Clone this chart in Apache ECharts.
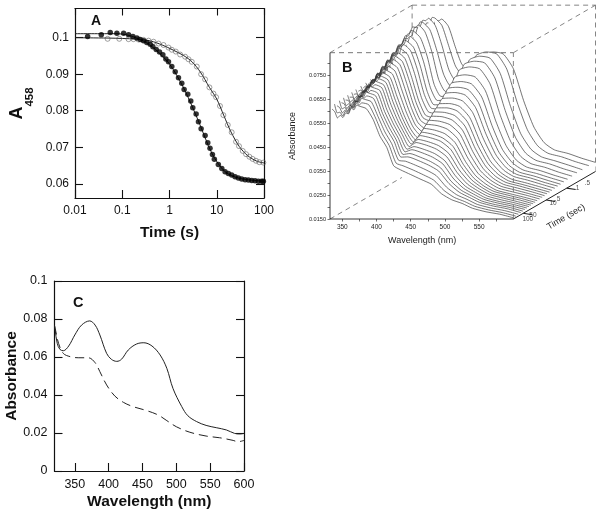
<!DOCTYPE html>
<html><head><meta charset="utf-8">
<style>html,body{margin:0;padding:0;background:#fff}#c{width:600px;height:513px}</style>
<script src="https://cdn.jsdelivr.net/npm/echarts@6/dist/echarts.min.js"></script>
</head><body><div id="c"></div>
<script>
// ---------- Panel A ----------
const filledTime=[0.0185,0.036,0.0557,0.077,0.107,0.136,0.168,0.204,0.24,0.282,0.331,0.39,0.445,0.523,0.615,0.723,0.837,0.952,1.12,1.32,1.55,1.82,2.04,2.44,2.82,3.11,3.66,4.1,4.67,5.67,6.46,7.2,8.1,8.9,10.8,12.8,15,17.6,20.7,24.4,28.7,33.7,39.8,46.7,55,64.6,75.9,89,97];
const filledA458=[.1003,.1008,.1014,.1012,.1012,.1008,.1003,.0999,.0995,.0992,.0987,.0982,.0975,.0968,.0961,.0953,.0942,.0934,.0921,.0907,.089,.0875,.0858,.0845,.0827,.0808,.0791,.077,.0751,.0732,.0712,.0697,.068,.0667,.0653,.0642,.0633,.0628,.0624,.0619,.0616,.0613,.0611,.061,.0609,.0608,.0607,.0607,.0607];
const openTime=[0.049,0.0865,0.136,0.173,0.221,0.282,0.36,0.459,0.586,0.747,0.952,1.12,1.36,1.68,2.14,2.52,2.96,3.78,4.67,5.67,7,8.5,9.7,11.7,13.8,17.1,20.7,25.6,29.6,35.4,41.7,49,57.5,67.6,79.6,97];
const openA458=[.0997,.0997,.0996,.0996,.0995,.0994,.0992,.0989,.0984,.098,.0973,.0967,.0962,.0954,.0948,.0941,.0934,.0921,.09,.0886,.0864,.0847,.0837,.0813,.0788,.0761,.0741,.0715,.0703,.069,.0681,.0674,.0668,.0663,.0659,.0658];
const fitOpenTime=[0.01,0.05,0.1,0.2,0.4,0.7,1.2,2,3,4.5,7,10,14,20,30,45,70,100];
const fitOpenA=[.1,.0999,.0998,.0996,.0991,.098,.0966,.0951,.0934,.0906,.0864,.0832,.0788,.0742,.0702,.0677,.0662,.0657];
const fitFilledTime=[0.01,0.03,0.06,0.1,0.15,0.2,0.3,0.5,1,2,4,8,15,30,100];
const fitFilledA=[.1011,.1011,.1011,.101,.1005,.0999,.0989,.0968,.0928,.0862,.0775,.0682,.0633,.0615,.0607];
const aYTicks=[0.06,0.07,0.08,0.09,0.1];

// ---------- Panel B ----------
const wavelengths=[335,339,343,347,351,355,359,363,367,371,375,385,395,405,415,425,435,450,465,480,495,510,525,540,560,580,600];
// depth of each spectrum on the time axis: 1 = back (0.5 s), 0 = front (100 s)
const traceDepth=[1,.92,.84,.775,.715,.66,.615,.575,.54,.505,.47,.44,.41,.38,.35,.32,.29,.265,.24,.215,.19,.165,.14,.115,.09,.06,.03,0];
// each row is one spectrum, back to front; absorbance × 10000
const spectra=[
[640,634,660,670,706,716,748,756,778,778,785,755,670,595,578,595,635,648,640,578,445,335,270,240,225,205,188],
[631,652,658,694,708,742,754,785,785,808,805,775,690,605,570,585,649,664,656,592,455,340,273,242,227,207,190],
[646,644,678,690,732,742,780,787,812,810,820,790,705,605,560,575,647,662,654,590,453,339,274,243,226,208,189],
[633,656,663,700,716,751,762,795,795,818,815,785,700,600,552,565,641,654,647,584,449,337,271,241,226,206,189],
[645,643,677,688,730,739,777,783,809,807,817,788,705,590,540,548,629,642,634,572,441,333,269,239,224,204,187],
[630,652,657,692,705,740,750,783,781,805,802,774,695,580,530,535,610,620,611,553,428,326,265,236,221,202,185],
[642,635,664,670,709,716,752,757,782,779,789,762,683,575,522,525,593,601,591,536,417,319,262,233,218,200,183],
[627,645,646,678,688,722,729,761,759,782,778,752,673,568,512,512,579,585,575,521,407,314,259,231,216,198,181],
[640,629,654,658,695,700,734,738,763,760,769,744,665,562,505,502,565,570,559,507,398,309,256,229,214,196,180],
[625,639,637,666,674,705,711,742,739,763,759,735,656,556,497,490,551,554,542,493,388,304,254,227,212,195,178],
[638,622,645,646,681,683,717,719,744,739,749,726,647,552,490,480,537,538,526,479,379,298,251,224,209,193,176],
[623,634,628,655,661,691,695,725,722,745,741,719,640,548,485,472,526,526,513,468,371,294,249,222,207,191,175],
[636,617,637,636,669,670,702,703,728,723,733,712,633,544,480,462,515,513,500,456,363,290,246,221,206,190,174],
[621,629,621,646,650,678,682,711,707,730,725,705,626,540,476,452,503,501,487,445,356,286,244,219,204,189,172],
[634,612,630,626,657,656,687,688,712,706,716,697,618,536,472,445,492,488,474,434,348,281,242,217,202,187,171],
[619,624,613,635,637,664,666,694,690,712,708,690,611,532,470,438,481,476,461,422,341,277,240,215,200,186,170],
[632,607,622,616,645,643,673,672,696,690,700,683,604,528,468,432,470,463,448,411,333,273,238,213,198,184,169],
[617,619,606,626,626,651,653,680,675,697,693,677,598,525,466,428,459,451,435,400,325,269,235,212,197,183,167],
[630,603,616,608,635,632,661,660,683,677,686,671,592,522,465,424,450,441,426,391,320,266,234,210,195,182,166],
[615,615,600,618,616,641,641,668,663,684,679,665,586,519,464,420,439,429,413,380,312,262,232,209,194,180,165],
[628,599,610,600,625,621,649,648,670,663,672,659,580,516,463,414,431,420,403,371,306,258,230,207,192,179,164],
[613,611,593,609,605,628,628,654,648,669,665,653,575,513,461,408,419,407,390,360,299,254,228,205,190,178,163],
[627,595,603,591,615,609,636,634,656,649,658,646,570,510,459,402,411,398,380,352,293,251,226,204,189,177,162],
[612,607,587,601,596,618,616,641,635,656,652,640,567,507,457,396,400,385,367,340,285,247,224,202,187,176,160],
[625,591,597,583,605,598,624,621,643,636,645,634,565,504,455,390,391,376,357,332,280,244,222,201,186,175,159],
[610,602,580,592,585,606,603,628,621,641,637,627,565,501,452,383,379,362,343,319,271,239,220,199,184,173,158],
[623,586,589,573,593,585,609,606,627,619,628,620,565,498,450,377,366,348,328,306,263,234,217,197,182,171,156],
[608,597,571,582,573,592,588,612,605,625,620,610,565,495,448,372,355,335,315,295,255,230,215,195,180,170,155]
];
const hiddenFromWavelength=375; // noisy start of each spectrum is not hidden-line removed
const depthShiftNm=120;      // full-depth horizontal shift of the waterfall
const depthShiftAbs=0.0198;  // full-depth vertical shift of the waterfall
const wlLeft=332, wlRight=600, absBottom=0.015, absTop=0.0843;
const bXLabels=[350,400,450,500,550];
const bXTicks=[350,375,400,425,450,475,500,525,550,575];
const bYLabels=[0.015,0.025,0.035,0.045,0.055,0.065,0.075];
const bYTicks=[0.015,0.02,0.025,0.03,0.035,0.04,0.045,0.05,0.055,0.06,0.065,0.07,0.075,0.08];
const timeLabels=['.5','1','5','10','50','100'];
const timeDepth=[0.76,0.65,0.42,0.33,0.085,0];
const timeMajorDepth=[0.65,0.40,0.12];

// ---------- Panel C ----------
const solidWl=[320,321,324,328,333,341,350,360,372,380,387,397,404,412,419,429,441,452,464,476,486,495,508,517,530,544,559,574,586,594,600];
const solidAbs=[.0765,.0742,.0672,.064,.0633,.0658,.0716,.0768,.079,.0768,.0716,.0619,.0588,.0577,.0588,.0637,.0668,.0675,.0658,.0611,.054,.0435,.0339,.0291,.026,.024,.0228,.0216,.0198,.0195,.0198];
const dashWl=[320,321,326,333,343,355,370,380,387,397,409,422,436,456,473,486,500,520,544,564,584,591,600];
const dashAbs=[.0765,.0751,.0672,.0619,.0602,.0596,.0596,.057,.0523,.0453,.0395,.0361,.0339,.0318,.0295,.0265,.0233,.0204,.0184,.0175,.0161,.0154,.0161];
const cXTicks=[350,400,450,500,550,600];

const zip=(a,b)=>a.map((v,i)=>[v,b[i]]);
const FONT='"Liberation Sans",Arial,sans-serif';
const BLK='#111';
const line0={show:true,onZero:false,lineStyle:{color:BLK,width:1.2}};
const tickIn=(len,extra)=>Object.assign({show:true,inside:true,length:len,lineStyle:{color:BLK,width:1.1}},extra||{});
const nLbl={fontFamily:FONT,color:BLK};

const xAxes=[
 {gridIndex:0,type:'log',logBase:10,min:0.01,max:100,position:'bottom',axisLine:line0,axisTick:tickIn(8),splitLine:{show:false},minorTick:{show:false},
  axisLabel:Object.assign({fontSize:12,margin:7,showMinLabel:true,showMaxLabel:true,formatter:v=>String(v),hideOverlap:false},nLbl),
  name:'Time (s)',nameLocation:'middle',nameGap:27,nameTextStyle:{fontFamily:FONT,fontWeight:'bold',fontSize:15.5,color:BLK}},
 {gridIndex:0,type:'log',logBase:10,min:0.01,max:100,position:'top',axisLine:line0,axisTick:tickIn(7),axisLabel:{show:false},splitLine:{show:false},minorTick:{show:false}},
 {gridIndex:1,type:'value',min:wlLeft,max:wlLeft+268+depthShiftNm,position:'bottom',axisLine:{show:false},
  axisTick:{show:true,length:2.5,lineStyle:{color:'#333',width:.7},customValues:bXTicks},splitLine:{show:false},
  axisLabel:{fontFamily:FONT,fontSize:6.5,color:'#222',margin:5,customValues:bXLabels}},
 {gridIndex:2,type:'value',min:320,max:600,position:'bottom',axisLine:line0,
  axisTick:tickIn(8,{customValues:cXTicks}),splitLine:{show:false},
  axisLabel:Object.assign({fontSize:12.5,margin:7,customValues:cXTicks,formatter:v=>String(v)},nLbl),
  name:'Wavelength (nm)',nameLocation:'middle',nameGap:23,nameTextStyle:{fontFamily:FONT,fontWeight:'bold',fontSize:15.5,color:BLK}},
 {gridIndex:2,type:'value',min:320,max:600,position:'top',axisLine:line0,axisTick:{show:false},axisLabel:{show:false},splitLine:{show:false}}
];
const yAxes=[
 {gridIndex:0,type:'value',min:0.0561,max:0.108,position:'left',axisLine:line0,
  axisTick:tickIn(8,{customValues:aYTicks}),splitLine:{show:false},
  axisLabel:Object.assign({fontSize:12,margin:6,customValues:aYTicks,formatter:v=>String(+v.toFixed(2))},nLbl)},
 {gridIndex:0,type:'value',min:0.0561,max:0.108,position:'right',axisLine:line0,
  axisTick:tickIn(8,{customValues:aYTicks}),axisLabel:{show:false},splitLine:{show:false}},
 {gridIndex:1,type:'value',min:absBottom,max:absBottom+214/2400,position:'left',axisLine:{show:false},
  axisTick:{show:true,length:2.5,lineStyle:{color:'#333',width:.7},customValues:bYTicks},splitLine:{show:false},
  axisLabel:{fontFamily:FONT,fontSize:5.6,color:'#222',margin:4,customValues:bYLabels,formatter:v=>v.toFixed(4)}},
 {gridIndex:2,type:'value',min:0,max:0.1,interval:0.02,position:'left',axisLine:line0,axisTick:tickIn(8),splitLine:{show:false},
  axisLabel:Object.assign({fontSize:12.5,margin:7,formatter:v=>String(+v.toFixed(2))},nLbl),
  name:'Absorbance',nameLocation:'middle',nameGap:33,nameTextStyle:{fontFamily:FONT,fontWeight:'bold',fontSize:15.5,color:BLK}},
 {gridIndex:2,type:'value',min:0,max:0.1,interval:0.02,position:'right',axisLine:line0,axisTick:tickIn(8),axisLabel:{show:false},splitLine:{show:false}}
];

const series=[];
// Panel A
series.push({name:'fit open',type:'line',xAxisIndex:0,yAxisIndex:0,data:zip(fitOpenTime,fitOpenA),smooth:.3,showSymbol:false,lineStyle:{color:'#222',width:1},z:3,silent:true});
series.push({name:'fit filled',type:'line',xAxisIndex:0,yAxisIndex:0,data:zip(fitFilledTime,fitFilledA),smooth:.3,showSymbol:false,lineStyle:{color:'#222',width:1},z:3,silent:true});
series.push({name:'open',type:'scatter',xAxisIndex:0,yAxisIndex:0,data:zip(openTime,openA458),symbolSize:5,itemStyle:{color:'rgba(255,255,255,0)',borderColor:'#555',borderWidth:.7},z:4,silent:true});
series.push({name:'filled',type:'scatter',xAxisIndex:0,yAxisIndex:0,data:zip(filledTime,filledA458),symbolSize:5.5,itemStyle:{color:'#000'},z:5,silent:true});

// Panel B box pieces
const seg=(name,pts,dashed,z,color,width)=>series.push({name,type:'line',xAxisIndex:2,yAxisIndex:2,data:pts,showSymbol:false,silent:true,clip:false,z,
  lineStyle:{color:color||'#666',width:width||.8,type:dashed?[5,4]:'solid'}});
const xb=wlLeft+depthShiftNm, xr=wlRight+depthShiftNm, yb=absBottom+depthShiftAbs, yt=absTop+depthShiftAbs;
seg('back left',[[xb,yb],[xb,yt]],true,1);
seg('back top',[[xb,yt],[xr,yt]],true,1);
seg('back right',[[xr,yb],[xr,yt]],true,1);
seg('depth top left',[[wlLeft,absTop],[xb,yt]],true,1);
seg('depth top right',[[wlRight,absTop],[xr,yt]],true,1);

// Panel B spectra, back to front; the white mask hides what lies behind the smooth part of each one
spectra.forEach((row,i)=>{
  const d=traceDepth[i];
  const pts=row.map((v,j)=>[wavelengths[j]+d*depthShiftNm,v/10000+d*depthShiftAbs]);
  const first=wavelengths.indexOf(hiddenFromWavelength);
  series.push({name:'mask'+i,type:'line',xAxisIndex:2,yAxisIndex:2,smooth:.2,showSymbol:false,silent:true,z:10+2*i,
    data:pts.slice(first),lineStyle:{width:0,opacity:0},areaStyle:{color:'#fff',opacity:1,origin:'start'}});
  series.push({name:'t'+i,type:'line',xAxisIndex:2,yAxisIndex:2,smooth:.2,showSymbol:false,silent:true,z:11+2*i,
    data:pts,lineStyle:{color:'#3a3a3a',width:.7}});
});
seg('front top',[[wlLeft,absTop],[wlRight,absTop]],true,100,'#777',1);
seg('front right',[[wlRight,absBottom],[wlRight,absTop]],true,100,'#777',.9);
seg('depth bottom left',[[wlLeft,absBottom],[wlLeft+105,absBottom+0.0173]],true,100);
seg('front left',[[wlLeft,absBottom],[wlLeft,absTop]],false,101,'#222',.9);
seg('front bottom',[[wlLeft,absBottom],[wlRight,absBottom]],false,101,'#222',.9);
seg('time axis',[[wlRight,absBottom],[xr,yb]],false,101,'#222',1);
const at=f=>[wlRight+f*depthShiftNm,absBottom+f*depthShiftAbs];
timeMajorDepth.forEach((f,i)=>{const p=at(f);seg('time tick '+i,[p,[p[0]+13,p[1]-0.0006]],false,101,'#222',1.1);});
series.push({name:'time labels',type:'scatter',xAxisIndex:2,yAxisIndex:2,silent:true,symbolSize:0,z:102,
  data:timeDepth.map((f,i)=>({value:at(f),label:{show:true,position:'right',distance:9,formatter:timeLabels[i],fontFamily:FONT,fontSize:6.5,color:'#222'}}))});

// Panel C
series.push({name:'solid',type:'line',xAxisIndex:3,yAxisIndex:3,data:zip(solidWl,solidAbs),smooth:.35,showSymbol:false,silent:true,lineStyle:{color:'#222',width:1}});
series.push({name:'dashed',type:'line',xAxisIndex:3,yAxisIndex:3,data:zip(dashWl,dashAbs),smooth:.35,showSymbol:false,silent:true,lineStyle:{color:'#222',width:1,type:[9,5]}});

const option={
 animation:false,backgroundColor:'#fff',
 title:[
  {text:'A',left:86,top:9,textStyle:{fontFamily:FONT,fontWeight:'bold',fontSize:14,color:BLK}},
  {text:'B',left:337,top:55,textStyle:{fontFamily:FONT,fontWeight:'bold',fontSize:14.5,color:BLK}},
  {text:'C',left:68,top:290,textStyle:{fontFamily:FONT,fontWeight:'bold',fontSize:14.5,color:BLK}}
 ],
 grid:[
  {left:75,top:8.5,width:189,height:189.5},
  {left:330,top:5,width:265.5,height:214},
  {left:54.5,top:281,width:189.5,height:190}
 ],
 xAxis:xAxes,yAxis:yAxes,series,
 graphic:[
  {type:'text',z:200,x:17,y:113,rotation:Math.PI/2,silent:true,style:{text:'A',font:'bold 18px "Liberation Sans"',fill:BLK,align:'center',verticalAlign:'middle'}},
  {type:'text',z:200,x:30,y:97,rotation:Math.PI/2,silent:true,style:{text:'458',font:'bold 11.5px "Liberation Sans"',fill:BLK,align:'center',verticalAlign:'middle'}},
  {type:'text',z:200,left:388,top:236,silent:true,style:{text:'Wavelength (nm)',font:'9px "Liberation Sans"',fill:'#222'}},
  {type:'text',z:200,x:293,y:136,rotation:Math.PI/2,silent:true,style:{text:'Absorbance',font:'9px "Liberation Sans"',fill:'#222',align:'center',verticalAlign:'middle'}},
  {type:'text',z:200,x:566,y:217,rotation:Math.PI/6,silent:true,style:{text:'Time (sec)',font:'9px "Liberation Sans"',fill:'#222',align:'center',verticalAlign:'middle'}}
 ]
};
const chart=echarts.init(document.getElementById('c'),null,{renderer:'canvas',width:600,height:513});
chart.setOption(option);
</script></body></html>
